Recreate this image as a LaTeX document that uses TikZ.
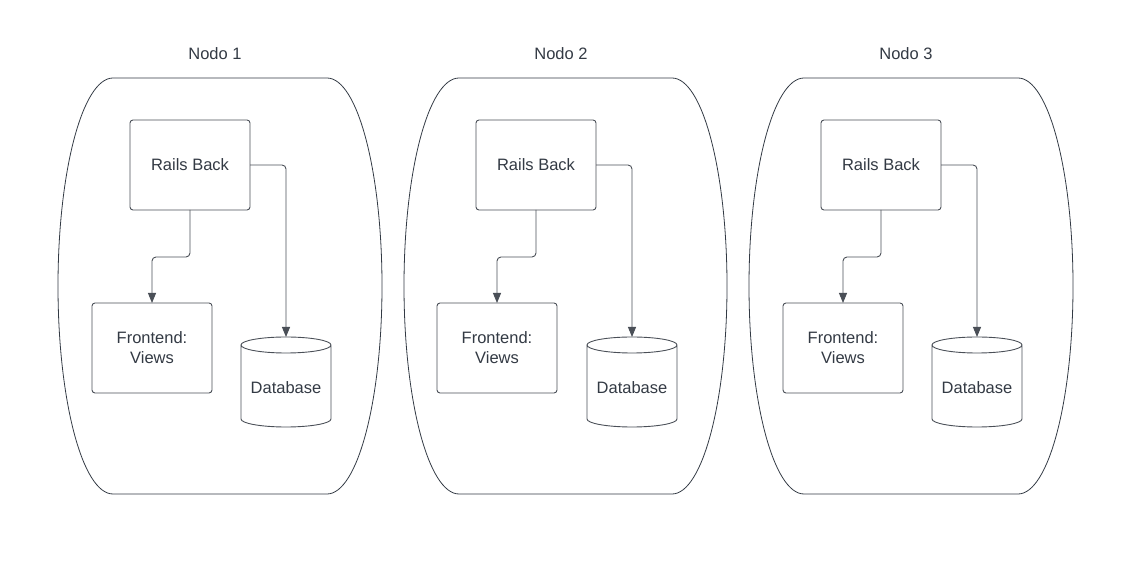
\documentclass[tikz,border=0pt]{standalone}
\usepackage{fontspec}
\setmainfont{Liberation Sans}
\usetikzlibrary{arrows.meta}

\definecolor{lineGray}{HTML}{4A4F57}
\definecolor{textGray}{HTML}{333A44}

\begin{document}
\begin{tikzpicture}[x=1pt,y=1pt]
  \tikzset{BoxStyle/.style = {
    shape         = rectangle,
    draw          = lineGray,
    fill          = white,
    line width    = 0.9pt,
    rounded corners = 3pt,
    text          = textGray,
    align         = center,
    inner sep     = 2pt,
    outer sep     = 0pt,
    minimum width = 120pt,
    minimum height = 90pt,
    font          = \fontsize{16.5}{20}\selectfont
    }
  }
  \tikzset{DatabaseStyle/.style = {
    shape         = rectangle,
    draw          = none,
    text          = textGray,
    inner sep     = 2pt,
    outer sep     = 0pt,
    minimum width = 90pt,
    minimum height = 90pt,
    text height   = 24pt,
    text depth    = 0pt,
    font          = \fontsize{16.5}{20}\selectfont
    }
  }
  \tikzset{DatabaseLine/.style = {
    draw          = lineGray,
    line width    = 0.9pt
    }
  }
  \tikzset{ContainerStyle/.style = {
    draw          = textGray,
    line width    = 0.8pt
    }
  }
  \tikzset{EdgeStyle/.style = {
    draw          = lineGray,
    line width    = 0.9pt,
    rounded corners = 4pt,
    -{Triangle[length=10pt,width=8pt]}
    }
  }
  \tikzset{TitleStyle/.style = {
    text          = textGray,
    font          = \fontsize{16.5}{20}\selectfont
    }
  }

  \useasboundingbox (0,0) rectangle (1121,564);

  % containers
  \draw[ContainerStyle] (113,486) -- (327,486) arc[start angle=90, end angle=-90, x radius=55, y radius=208] -- (113,70) arc[start angle=270, end angle=90, x radius=55, y radius=208] -- cycle;
  \draw[ContainerStyle] (459,486) -- (672,486) arc[start angle=90, end angle=-90, x radius=55, y radius=208] -- (459,70) arc[start angle=270, end angle=90, x radius=55, y radius=208] -- cycle;
  \draw[ContainerStyle] (804,486) -- (1018,486) arc[start angle=90, end angle=-90, x radius=55, y radius=208] -- (804,70) arc[start angle=270, end angle=90, x radius=55, y radius=208] -- cycle;

  \node[TitleStyle](N1) at (215, 510) {Nodo 1};
  \node[TitleStyle](N2) at (561, 510) {Nodo 2};
  \node[TitleStyle](N3) at (906, 510) {Nodo 3};

  % node 1
  \node[BoxStyle](R1) at (190, 399) {Rails Back};
  \node[BoxStyle](F1) at (152, 216) {Frontend:\\Views};
  \node[DatabaseStyle](D1) at (286, 182) {Database};
  \draw[DatabaseLine] ([yshift=-8pt]D1.north west) -- ([yshift=8pt]D1.south west) arc[start angle=180, end angle=360, x radius=45, y radius=8] -- ([yshift=-8pt]D1.north east) arc[start angle=0, end angle=180, x radius=45, y radius=8] arc[start angle=180, end angle=360, x radius=45, y radius=8];
  \draw[EdgeStyle](R1.south) -- ++(0,-47) -| (F1.north);
  \draw[EdgeStyle](R1.east) -| (D1.north);

  % node 2
  \node[BoxStyle](R2) at (536, 399) {Rails Back};
  \node[BoxStyle](F2) at (497, 216) {Frontend:\\Views};
  \node[DatabaseStyle](D2) at (632, 182) {Database};
  \draw[DatabaseLine] ([yshift=-8pt]D2.north west) -- ([yshift=8pt]D2.south west) arc[start angle=180, end angle=360, x radius=45, y radius=8] -- ([yshift=-8pt]D2.north east) arc[start angle=0, end angle=180, x radius=45, y radius=8] arc[start angle=180, end angle=360, x radius=45, y radius=8];
  \draw[EdgeStyle](R2.south) -- ++(0,-47) -| (F2.north);
  \draw[EdgeStyle](R2.east) -| (D2.north);

  % node 3
  \node[BoxStyle](R3) at (881, 399) {Rails Back};
  \node[BoxStyle](F3) at (843, 216) {Frontend:\\Views};
  \node[DatabaseStyle](D3) at (977, 182) {Database};
  \draw[DatabaseLine] ([yshift=-8pt]D3.north west) -- ([yshift=8pt]D3.south west) arc[start angle=180, end angle=360, x radius=45, y radius=8] -- ([yshift=-8pt]D3.north east) arc[start angle=0, end angle=180, x radius=45, y radius=8] arc[start angle=180, end angle=360, x radius=45, y radius=8];
  \draw[EdgeStyle](R3.south) -- ++(0,-47) -| (F3.north);
  \draw[EdgeStyle](R3.east) -| (D3.north);

\end{tikzpicture}
\end{document}
